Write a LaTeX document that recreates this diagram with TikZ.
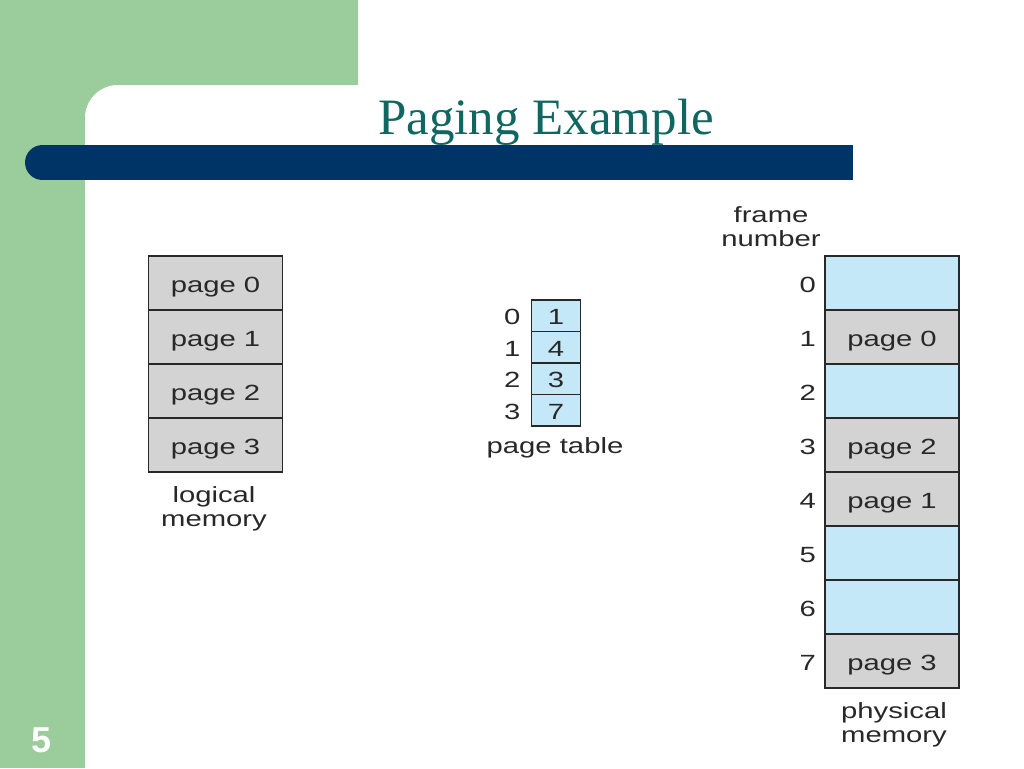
\documentclass[tikz,border=0pt]{standalone}
\usepackage{fontspec}
\setmainfont{Liberation Serif}
\newfontfamily\diagfont[FakeStretch=1.33]{Liberation Sans}
\newfontfamily\slidefont{Liberation Sans}
\usetikzlibrary{positioning}

\definecolor{slidegreen}{RGB}{155,204,155}
\definecolor{barblue}{RGB}{0,51,102}
\definecolor{titleteal}{RGB}{16,102,96}
\definecolor{pagegray}{RGB}{211,211,211}
\definecolor{frameblue}{RGB}{197,232,248}
\definecolor{inkgray}{RGB}{40,40,40}

\tikzset{
  memcell/.style={draw=inkgray,line width=1.5pt,minimum width=134pt,minimum height=54pt,
    inner sep=0pt,outer sep=0pt,text=inkgray,text height=18pt,text depth=0pt,
    font=\diagfont\fontsize{22}{24}\selectfont},
  usedcell/.style={memcell,fill=pagegray},
  freecell/.style={memcell,fill=frameblue},
  tabcell/.style={memcell,fill=frameblue,minimum width=49pt,minimum height=31.5pt},
  memtext/.style={text=inkgray,inner sep=0pt,align=center,font=\diagfont\fontsize{22}{24}\selectfont},
  numtext/.style={memtext,text height=18pt,text depth=0pt}
}

\begin{document}
\begin{tikzpicture}[x=1pt,y=-1pt]
\useasboundingbox (0,0) rectangle (1024,768);

% -- slide background
\fill[white] (0,0) rectangle (1024,768);
\fill[slidegreen] (0,0) rectangle (358,85);
\fill[slidegreen] (0,0) rectangle (85,768);
\fill[slidegreen] (85,85) rectangle (130,130);
\fill[white,rounded corners=33pt] (85,85) rectangle (1100,850);

% -- title bar
\fill[barblue] (42.5,162.5) circle (17.5pt);
\fill[barblue] (42.5,145) rectangle (853,180);
\node[anchor=base,text=titleteal,inner sep=0pt,font=\fontsize{51}{56}\selectfont] (title) at (546,134) {Paging Example};

% -- logical memory
\node[usedcell] (lm0) at (215.5,283) {page 0};
\node[usedcell,below=0pt of lm0] (lm1) {page 1};
\node[usedcell,below=0pt of lm1] (lm2) {page 2};
\node[usedcell,below=0pt of lm2] (lm3) {page 3};
\node[memtext] (lmtext) at (214,508.5) {logical\\memory};

% -- page table
\node[tabcell] (pt0) at (556,315.75) {1};
\node[tabcell,below=0pt of pt0] (pt1) {4};
\node[tabcell,below=0pt of pt1] (pt2) {3};
\node[tabcell,below=0pt of pt2] (pt3) {7};
\foreach \i in {0,...,3}
  \node[numtext,left=11pt of pt\i] (pi\i) {\i};
\node[memtext] (pttext) at (555,447.5) {page table};

% -- physical memory
\foreach \f/\kind/\txt in {0/freecell/,1/usedcell/page 0,2/freecell/,3/usedcell/page 2,
    4/usedcell/page 1,5/freecell/,6/freecell/,7/usedcell/page 3}
{
  \node[\kind] (pm\f) at (892,{283+54*\f}) {\txt};
  \node[numtext,left=9pt of pm\f] (fn\f) {\f};
}
\node[memtext] (fntext) at (771,227) {frame\\number};
\node[memtext] (pmtext) at (894,725) {physical\\memory};

% -- slide number
\node[anchor=base,text=white,inner sep=0pt,font=\slidefont\bfseries\fontsize{36}{40}\selectfont] (slideno) at (42,752) {5};
\end{tikzpicture}
\end{document}
